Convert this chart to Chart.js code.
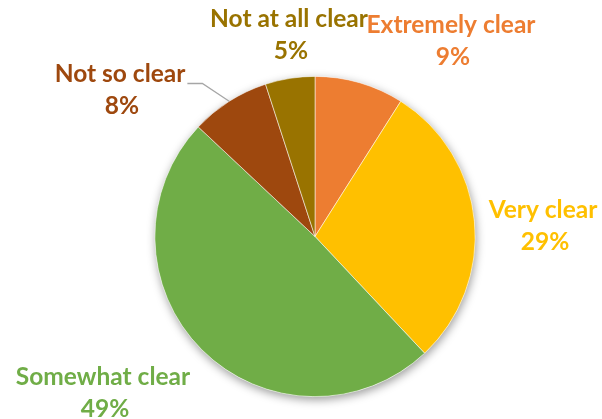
<!DOCTYPE html>
<html>
<head>
<meta charset="utf-8">
<script src="https://cdn.jsdelivr.net/npm/chart.js@4/dist/chart.umd.min.js"></script>
<style>
  html, body { margin: 0; padding: 0; background: #ffffff; }
  #wrap { width: 602px; height: 419px; position: relative; }
</style>
</head>
<body>
<div id="wrap"><canvas id="chart" width="602" height="419"></canvas></div>
<script>
// Survey answers, clockwise from 12 o'clock
const categories = ['Extremely clear', 'Very clear', 'Somewhat clear', 'Not so clear', 'Not at all clear'];
const shares = [9, 29, 49, 8, 5];
const sliceColors = ['#ED7D31', '#FFC000', '#70AD47', '#9E480E', '#997300'];

// Label anchors relative to the pie centre (first-line baseline, text centred)
const labelOffsets = [
  [136, -204],
  [228, -19],
  [-212, 148],
  [-195, -155],
  [-26, -210]
];
// Slices whose label gets a leader line
const leaderFor = [3];

const LABEL_FONT = 'bold 24.5px Lato, "Open Sans", sans-serif';
const LINE_GAP = 32;

// Soft drop shadow under the whole pie
const pieShadow = {
  id: 'pieShadow',
  beforeDatasetsDraw(chart) {
    const arc = chart.getDatasetMeta(0).data[0];
    if (!arc) return;
    const ctx = chart.ctx;
    ctx.save();
    ctx.shadowColor = 'rgba(0,0,0,0.4)';
    ctx.shadowBlur = 10;
    ctx.shadowOffsetX = 1;
    ctx.shadowOffsetY = 3;
    ctx.fillStyle = '#ffffff';
    ctx.beginPath();
    ctx.arc(arc.x, arc.y, arc.outerRadius, 0, Math.PI * 2);
    ctx.fill();
    ctx.restore();
  }
};

// Category name + percentage labels, with leader lines where needed
const sliceLabels = {
  id: 'sliceLabels',
  afterDatasetsDraw(chart) {
    const meta = chart.getDatasetMeta(0);
    const ctx = chart.ctx;
    const total = shares.reduce((a, b) => a + b, 0);
    meta.data.forEach((arc, i) => {
      const cx = arc.x, cy = arc.y;
      const lx = cx + labelOffsets[i][0];
      const ly = cy + labelOffsets[i][1];
      if (leaderFor.includes(i)) {
        ctx.save();
        ctx.font = LABEL_FONT;
        const w = ctx.measureText(categories[i]).width;
        const mid = (arc.startAngle + arc.endAngle) / 2;
        const ex = cx + Math.cos(mid) * arc.outerRadius;
        const ey = cy + Math.sin(mid) * arc.outerRadius;
        const sx = lx + w / 2 + 2;
        const sy = ly + 2;
        ctx.strokeStyle = '#A6A6A6';
        ctx.lineWidth = 1.3;
        ctx.beginPath();
        ctx.moveTo(sx, sy);
        ctx.lineTo(sx + 15, sy);
        ctx.lineTo(ex, ey);
        ctx.stroke();
        ctx.restore();
      }
      ctx.save();
      ctx.font = LABEL_FONT;
      ctx.fillStyle = sliceColors[i];
      ctx.textAlign = 'center';
      ctx.textBaseline = 'alphabetic';
      ctx.fillText(categories[i], lx, ly);
      ctx.fillText(Math.round(shares[i] / total * 100) + '%', lx + 2, ly + LINE_GAP);
      ctx.restore();
    });
  }
};

new Chart(document.getElementById('chart'), {
  type: 'pie',
  data: {
    labels: categories,
    datasets: [{
      data: shares,
      backgroundColor: sliceColors,
      borderColor: 'rgba(255,255,255,0.7)',
      borderWidth: 0.75
    }]
  },
  options: {
    responsive: false,
    animation: false,
    layout: { padding: { left: 100, right: 72, top: 76, bottom: 22 } },
    plugins: {
      legend: { display: false },
      tooltip: { enabled: false }
    }
  },
  plugins: [pieShadow, sliceLabels]
});
</script>
</body>
</html>
